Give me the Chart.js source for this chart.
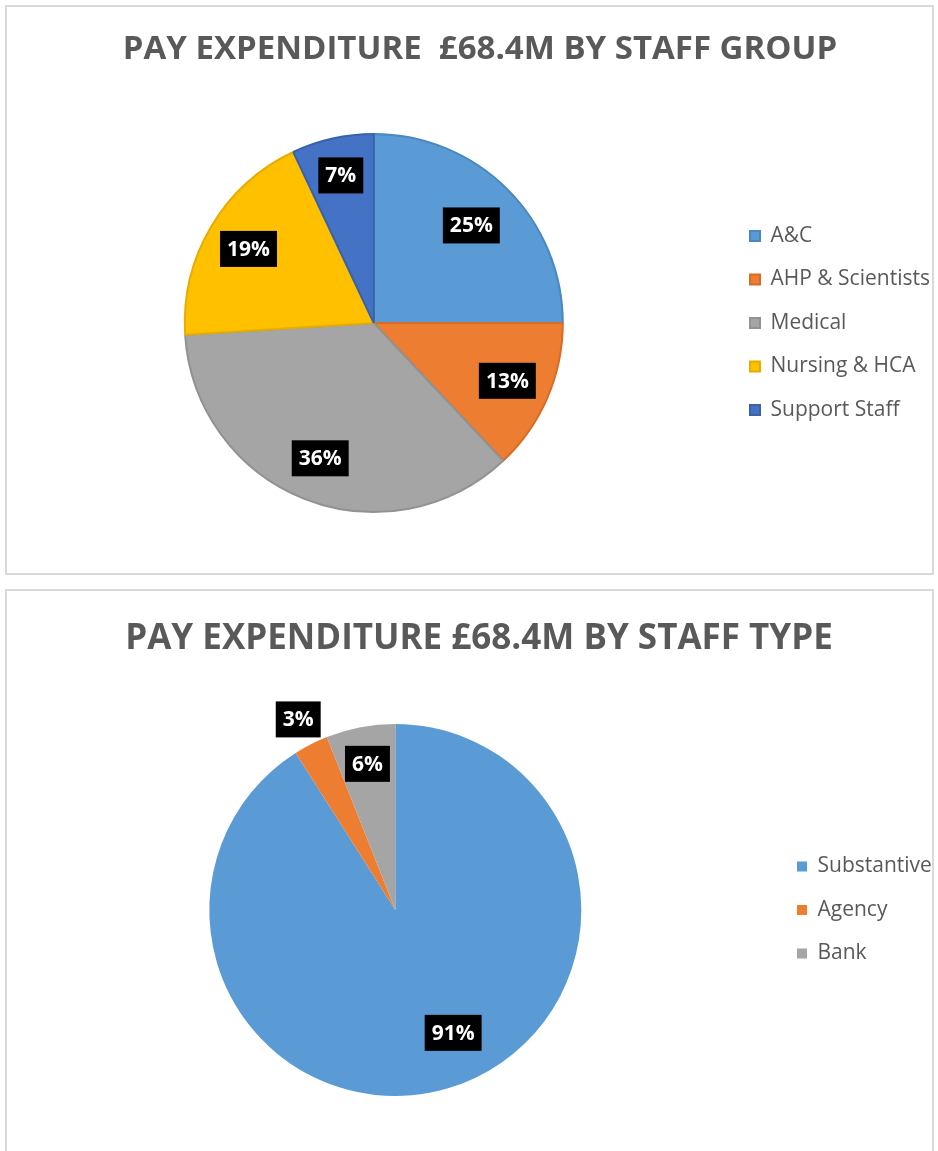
<!DOCTYPE html>
<html>
<head>
<meta charset="utf-8">
<script src="https://cdn.jsdelivr.net/npm/chart.js@4"></script>
<style>
  html, body { margin: 0; padding: 0; background: #fff; }
  body { position: relative; width: 938px; height: 1151px; overflow: hidden; }
  .panel { position: absolute; left: 5px; width: 925px; border: 2px solid #d9d9d9; background: #fff; }
  #p1 { top: 5px; height: 566px; }
  #p2 { top: 589px; height: 570px; }
  canvas { position: absolute; left: 0; }
  #groupChart { top: 0; }
  #typeChart { top: 588px; }
</style>
</head>
<body>
<div class="panel" id="p1"></div>
<div class="panel" id="p2"></div>
<canvas id="groupChart" width="938" height="580"></canvas>
<canvas id="typeChart" width="938" height="563"></canvas>
<script>
// staff group split (%)
const groupLabels = ["A&C", "AHP & Scientists", "Medical", "Nursing & HCA", "Support Staff"];
const groupValues = [25, 13, 36, 19, 7];

// staff type split (%)
const typeLabels = ["Substantive", "Agency", "Bank"];
const typeValues = [91, 3, 6];

const groupColors = ["#5b9bd5", "#ed7d31", "#a5a5a5", "#ffc000", "#4472c4"];
const groupBorders = ["#4b88c0", "#d66c25", "#929292", "#e6ac00", "#3a62aa"];
const typeColors = ["#5b9bd5", "#ed7d31", "#a5a5a5"];

const FONT = "'Open Sans', 'Noto Sans', sans-serif";
const LEGEND_SIZE = 21;
const LEGEND_PAD = 22.5;

// black boxes with white % text, placed along each slice's mid angle
const boxLabels = {
  id: "boxLabels",
  afterDatasetsDraw(chart, args, opts) {
    const ctx = chart.ctx;
    const meta = chart.getDatasetMeta(0);
    const values = chart.data.datasets[0].data;
    ctx.save();
    ctx.font = "bold 21px " + FONT;
    ctx.textAlign = "center";
    ctx.textBaseline = "middle";
    meta.data.forEach((arc, i) => {
      const p = arc.getProps(["x", "y", "startAngle", "endAngle", "outerRadius"], true);
      const mid = (p.startAngle + p.endAngle) / 2 - (opts.turn ? opts.turn[i] : 0) * Math.PI / 180;
      const r = p.outerRadius * opts.dist[i];
      const x = p.x + Math.cos(mid) * r;
      const y = p.y + Math.sin(mid) * r;
      const text = values[i] + "%";
      const w = ctx.measureText(text).width + 14;
      const h = 36;
      ctx.fillStyle = "#000";
      ctx.fillRect(x - w / 2, y - h / 2, w, h);
      ctx.fillStyle = "#fff";
      ctx.fillText(text, x, y + 1);
    });
    ctx.restore();
  }
};

function textWidth(labels) {
  const m = document.createElement("canvas").getContext("2d");
  m.font = LEGEND_SIZE + "px " + FONT;
  return Math.max(...labels.map((l) => m.measureText(l).width));
}

// boxX: wanted x of legend squares, titleX: wanted title centre
function makePie(id, labels, values, colors, borders, borderWidth, title, titleSize, boxX, titleX, titlePad, padBottom, labelOpts) {
  const W = 938;
  const legendW = LEGEND_PAD + 10 + LEGEND_SIZE / 2 + textWidth(labels) + 10;
  const padRight = W - (boxX - LEGEND_PAD) - legendW;
  const padLeft = 2 * titleX - W + padRight;
  return new Chart(document.getElementById(id), {
    type: "pie",
    data: {
      labels: labels,
      datasets: [
        {
          data: values,
          backgroundColor: colors,
          borderColor: borders,
          borderWidth: borderWidth,
        },
      ],
    },
    options: {
      responsive: false,
      animation: false,
      layout: { padding: { left: padLeft, right: padRight, top: 0, bottom: padBottom } },
      plugins: {
        title: {
          display: true,
          text: title,
          color: "#595959",
          font: { family: FONT, size: titleSize, weight: "bold", lineHeight: 1.2 },
          padding: titlePad,
        },
        legend: {
          position: "right",
          fullSize: false,
          labels: {
            boxWidth: 10,
            boxHeight: 10,
            padding: LEGEND_PAD,
            color: "#595959",
            font: { family: FONT, size: LEGEND_SIZE },
          },
        },
        tooltip: { enabled: false },
        boxLabels: labelOpts,
      },
    },
    plugins: [boxLabels],
  });
}

makePie("groupChart", groupLabels, groupValues, groupColors, groupBorders, 2,
  "PAY EXPENDITURE  £68.4M BY STAFF GROUP", 33, 750, 480,
  { top: 30.2, bottom: 63.2 }, 67, { dist: [0.73, 0.77, 0.77, 0.77, 0.8] });

makePie("typeChart", typeLabels, typeValues, typeColors, typeColors, 0,
  "PAY EXPENDITURE £68.4M BY STAFF TYPE", 35, 797, 479,
  { top: 30.5, bottom: 63.5 }, 55, { dist: [0.73, 1.15, 0.8], turn: [9, 0, 0] });
</script>
</body>
</html>
